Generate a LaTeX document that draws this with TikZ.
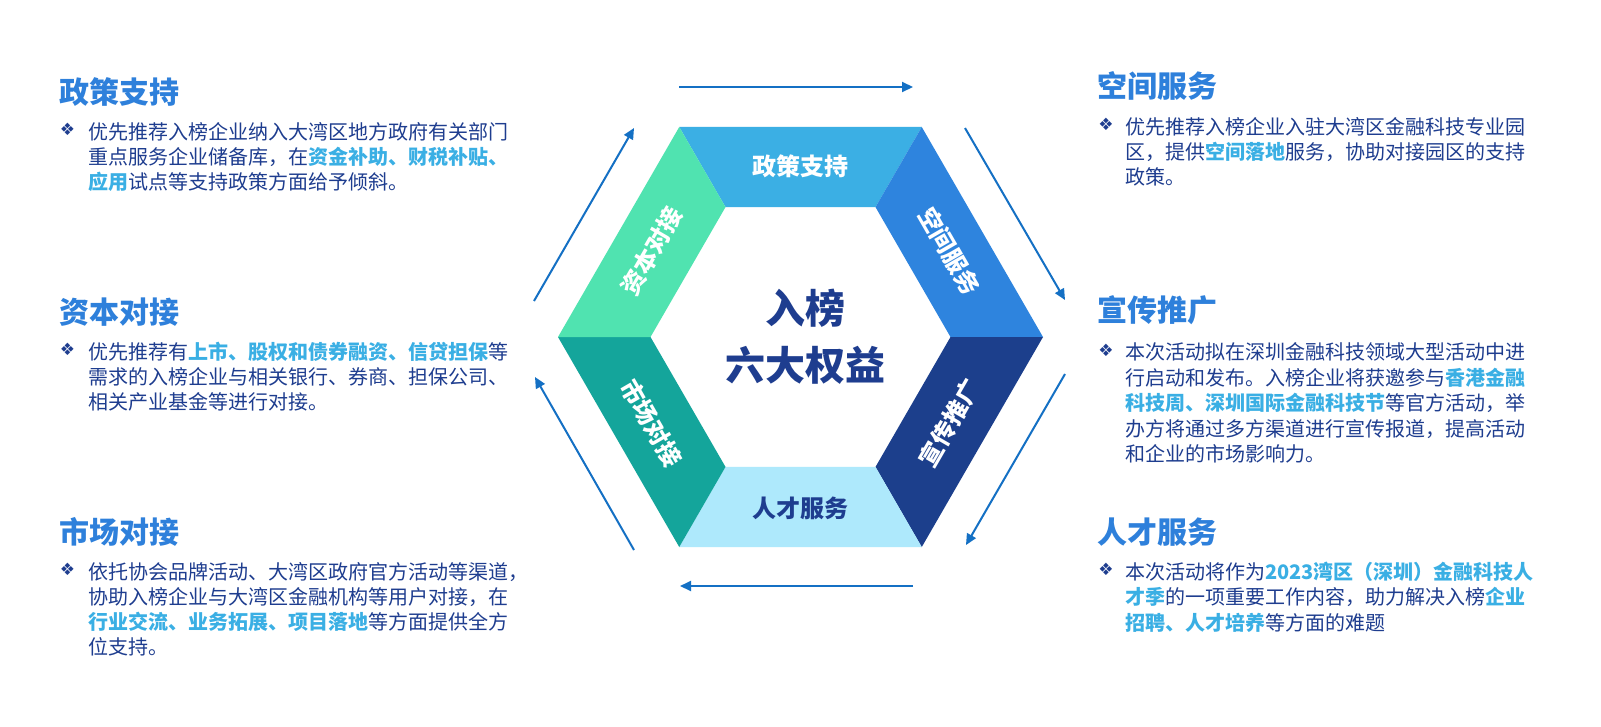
\documentclass[tikz,border=0pt]{standalone}
\usepackage{fontspec}
\setmainfont{Noto Sans CJK SC}
\newfontfamily\symfont{DejaVu Sans}
\usetikzlibrary{arrows.meta}
\definecolor{navy}{HTML}{1E3D8F}
\definecolor{hlc}{HTML}{3AAFE4}
\definecolor{ttlc}{HTML}{2E80DB}
\definecolor{arrc}{HTML}{1470C4}
\definecolor{segA}{HTML}{3BAFE4}
\definecolor{segB}{HTML}{2E84DE}
\definecolor{segC}{HTML}{1C3F8C}
\definecolor{segD}{HTML}{AEE9FC}
\definecolor{segE}{HTML}{14A59B}
\definecolor{segF}{HTML}{50E3B0}
\newcommand{\hlt}[1]{{\bfseries\color{hlc}#1}}
\tikzset{
  ttl/.style={anchor=base west, inner sep=0pt, font=\fontsize{30}{36}\selectfont\bfseries, text=ttlc},
  body/.style={anchor=base west, inner sep=0pt, font=\fontsize{20}{24}\selectfont, text=navy},
  bul/.style={anchor=center, inner sep=0pt, font=\symfont\fontsize{17}{19}\selectfont, text=navy},
  seglbl/.style={anchor=center, inner sep=0pt, font=\fontsize{24}{28}\selectfont\bfseries, text=white},
  centre/.style={anchor=base, inner sep=0pt, font=\fontsize{40}{48}\selectfont\bfseries, text=navy},
  flow/.style={draw=arrc, line width=2pt, -{Triangle[length=11pt,width=10pt]}}
}
\begin{document}
\begin{tikzpicture}[x=1pt,y=-1pt]
\useasboundingbox (0,0) rectangle (1601,726);
\fill[white] (0,0) rectangle (1601,726);

% hexagon geometry
\coordinate (c) at (800.5,337);
\foreach \a in {0,60,...,300} {
  \path (c) ++(\a:242.5) coordinate (O\a);
  \path (c) ++(\a:150) coordinate (I\a);
}
\fill[segA] (O240) -- (O300) -- (I300) -- (I240) -- cycle;
\fill[segB] (O300) -- (O0) -- (I0) -- (I300) -- cycle;
\fill[segC] (O0) -- (O60) -- (I60) -- (I0) -- cycle;
\fill[segD] (O60) -- (O120) -- (I120) -- (I60) -- cycle;
\fill[segE] (O120) -- (O180) -- (I180) -- (I120) -- cycle;
\fill[segF] (O180) -- (O240) -- (I240) -- (I180) -- cycle;

% segment labels
\node[seglbl] (sA) at ([shift={(270:171)}]c) {政策支持};
\node[seglbl, rotate=-60] (sB) at ([shift={(330:172)}]c) {空间服务};
\node[seglbl, rotate=60] (sC) at ([shift={(30:172)}]c) {宣传推广};
\node[seglbl, text=navy] (sD) at ([shift={(90:171)}]c) {人才服务};
\node[seglbl, rotate=-60] (sE) at ([shift={(150:172)}]c) {市场对接};
\node[seglbl, rotate=60] (sF) at ([shift={(210:172)}]c) {资本对接};

% centre text
\node[centre] (m1) at (805,323.2) {入榜};
\node[centre] (m2) at (805,380.2) {六大权益};

% flow arrows
\coordinate (a1s) at (679,87);   \coordinate (a1e) at (913,87);
\coordinate (a2s) at (965,128);  \coordinate (a2e) at (1065,300);
\coordinate (a3s) at (1065,374); \coordinate (a3e) at (966,545);
\coordinate (a4s) at (913,586);  \coordinate (a4e) at (680,586);
\coordinate (a5s) at (634,550);  \coordinate (a5e) at (535,377);
\coordinate (a6s) at (534,301);  \coordinate (a6e) at (634,128);
\draw[flow] (a1s) -- (a1e);
\draw[flow] (a2s) -- (a2e);
\draw[flow] (a3s) -- (a3e);
\draw[flow] (a4s) -- (a4e);
\draw[flow] (a5s) -- (a5e);
\draw[flow] (a6s) -- (a6e);

% left block 1
\node[ttl] (t1) at (59,103) {政策支持};
\node[bul] (b1) at (67.5,129.5) {❖};
\node[body] (l1a) at (88,139.3) {优先推荐入榜企业纳入大湾区地方政府有关部门};
\node[body] (l1b) at (88,164.3) {重点服务企业储备库，在\hlt{资金补助、财税补贴、}};
\node[body] (l1c) at (88,189.3) {\hlt{应用}试点等支持政策方面给予倾斜。};

% left block 2
\node[ttl] (t2) at (59,323.1) {资本对接};
\node[bul] (b2) at (67.5,349.7) {❖};
\node[body] (l2a) at (88,359.3) {优先推荐有\hlt{上市、股权和债券融资、信贷担保}等};
\node[body] (l2b) at (88,384.3) {需求的入榜企业与相关银行、券商、担保公司、};
\node[body] (l2c) at (88,409.3) {相关产业基金等进行对接。};

% left block 3
\node[ttl] (t3) at (59,543.7) {市场对接};
\node[bul] (b3) at (67.5,569.7) {❖};
\node[body] (l3a) at (88,579.3) {依托协会品牌活动、大湾区政府官方活动等渠道，};
\node[body] (l3b) at (88,604.3) {协助入榜企业与大湾区金融机构等用户对接，在};
\node[body] (l3c) at (88,629.3) {\hlt{行业交流、业务拓展、项目落地}等方面提供全方};
\node[body] (l3d) at (88,654.3) {位支持。};

% right block 1
\node[ttl] (t4) at (1097,97.1) {空间服务};
\node[bul] (b4) at (1106,124.5) {❖};
\node[body] (r1a) at (1125,134.1) {优先推荐入榜企业入驻大湾区金融科技专业园};
\node[body] (r1b) at (1125,159.1) {区，提供\hlt{空间落地}服务，协助对接园区的支持};
\node[body] (r1c) at (1125,184.1) {政策。};

% right block 2
\node[ttl] (t5) at (1097,321.4) {宣传推广};
\node[bul] (b5) at (1106,350) {❖};
\node[body] (r2a) at (1125,359.6) {本次活动拟在深圳金融科技领域大型活动中进};
\node[body] (r2b) at (1125,385.1) {行启动和发布。入榜企业将获邀参与\hlt{香港金融}};
\node[body] (r2c) at (1125,410.6) {\hlt{科技周、深圳国际金融科技节}等官方活动，举};
\node[body] (r2d) at (1125,436.1) {办方将通过多方渠道进行宣传报道，提高活动};
\node[body] (r2e) at (1125,461.6) {和企业的市场影响力。};

% right block 3
\node[ttl] (t6) at (1097,543.1) {人才服务};
\node[bul] (b6) at (1106,569.7) {❖};
\node[body] (r3a) at (1125,579.3) {本次活动将作为\hlt{2023湾区（深圳）金融科技人}};
\node[body] (r3b) at (1125,604.8) {\hlt{才季}的一项重要工作内容，助力解决入榜\hlt{企业}};
\node[body] (r3c) at (1125,630.3) {\hlt{招聘、人才培养}等方面的难题};
\end{tikzpicture}
\end{document}
